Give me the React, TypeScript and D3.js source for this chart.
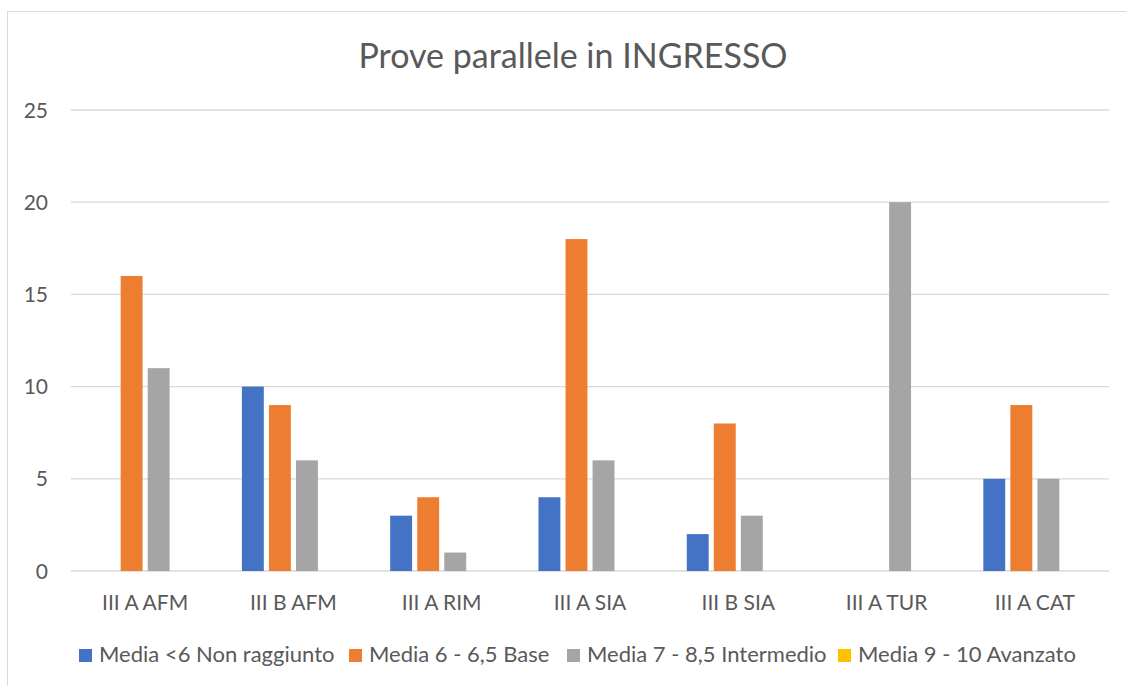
import * as d3 from "d3";

const categories = ["III A AFM", "III B AFM", "III A RIM", "III A SIA", "III B SIA", "III A TUR", "III A CAT"];
const seriesNames = ["Media <6 Non raggiunto", "Media 6 - 6,5 Base", "Media 7 - 8,5 Intermedio", "Media 9 - 10 Avanzato"];
const nonRaggiunto = [0, 10, 3, 4, 2, 0, 5];
const base = [16, 9, 4, 18, 8, 0, 9];
const intermedio = [11, 6, 1, 6, 3, 20, 5];
const avanzato = [0, 0, 0, 0, 0, 0, 0];
const yTicks = [0, 5, 10, 15, 20, 25];

const COLORS = ["#4472C4", "#ED7D31", "#A5A5A5", "#FFC000"];
const TEXT = "#595959";
const FONT = "Lato, 'Open Sans', sans-serif";

const WIDTH = 1126;
const HEIGHT = 686;
const PLOT = { left: 71, right: 1109, top: 110, bottom: 571 };
const LEGEND_X = [79, 349, 567, 838]; // left edge of each legend swatch

const App = () => {
  const values = [nonRaggiunto, base, intermedio, avanzato];

  const x0 = d3
    .scaleBand<string>()
    .domain(categories)
    .range([PLOT.left, PLOT.right])
    .paddingInner(0.305)
    .paddingOuter(0.1525);

  const x1 = d3
    .scaleBand<string>()
    .domain(seriesNames)
    .range([0, x0.bandwidth()])
    .paddingInner(0.19);

  const y = d3.scaleLinear().domain([0, 25]).range([PLOT.bottom, PLOT.top]);

  return (
    <svg
      width={WIDTH}
      height={HEIGHT}
      style={{ position: "absolute", left: 0, top: 0, background: "#fff" }}
      fontFamily={FONT}
    >
      {/* chart frame */}
      <rect x={7.5} y={11.5} width={1140} height={700} fill="#fff" stroke="#D9D9D9" />

      <text x={573} y={68} textAnchor="middle" fontSize={34} fill={TEXT}>
        Prove parallele in INGRESSO
      </text>

      {/* gridlines + y labels */}
      {yTicks.map((t) => (
        <g key={t}>
          <line x1={PLOT.left} x2={PLOT.right} y1={y(t)} y2={y(t)} stroke="#D9D9D9" strokeWidth={1.3} />
          <text x={48} y={y(t)} dy="0.36em" textAnchor="end" fontSize={21} fill={TEXT}>
            {t}
          </text>
        </g>
      ))}

      {/* bars */}
      {categories.map((c, ci) => (
        <g key={c} transform={`translate(${x0(c)},0)`}>
          {seriesNames.map((s, si) => {
            const v = values[si][ci];
            if (!v) return null;
            return (
              <rect
                key={s}
                x={x1(s)}
                y={y(v)}
                width={x1.bandwidth()}
                height={y(0) - y(v)}
                fill={COLORS[si]}
              />
            );
          })}
        </g>
      ))}

      {/* category labels */}
      {categories.map((c) => (
        <text
          key={c}
          x={(x0(c) as number) + x0.bandwidth() / 2}
          y={610}
          textAnchor="middle"
          fontSize={21}
          fill={TEXT}
        >
          {c}
        </text>
      ))}

      {/* legend */}
      {seriesNames.map((s, i) => (
        <g key={s} transform={`translate(${LEGEND_X[i]},649)`}>
          <rect width={13} height={13} fill={COLORS[i]} />
          <text x={20} y={13} fontSize={22} fill={TEXT}>
            {s}
          </text>
        </g>
      ))}
    </svg>
  );
};

export default App;
